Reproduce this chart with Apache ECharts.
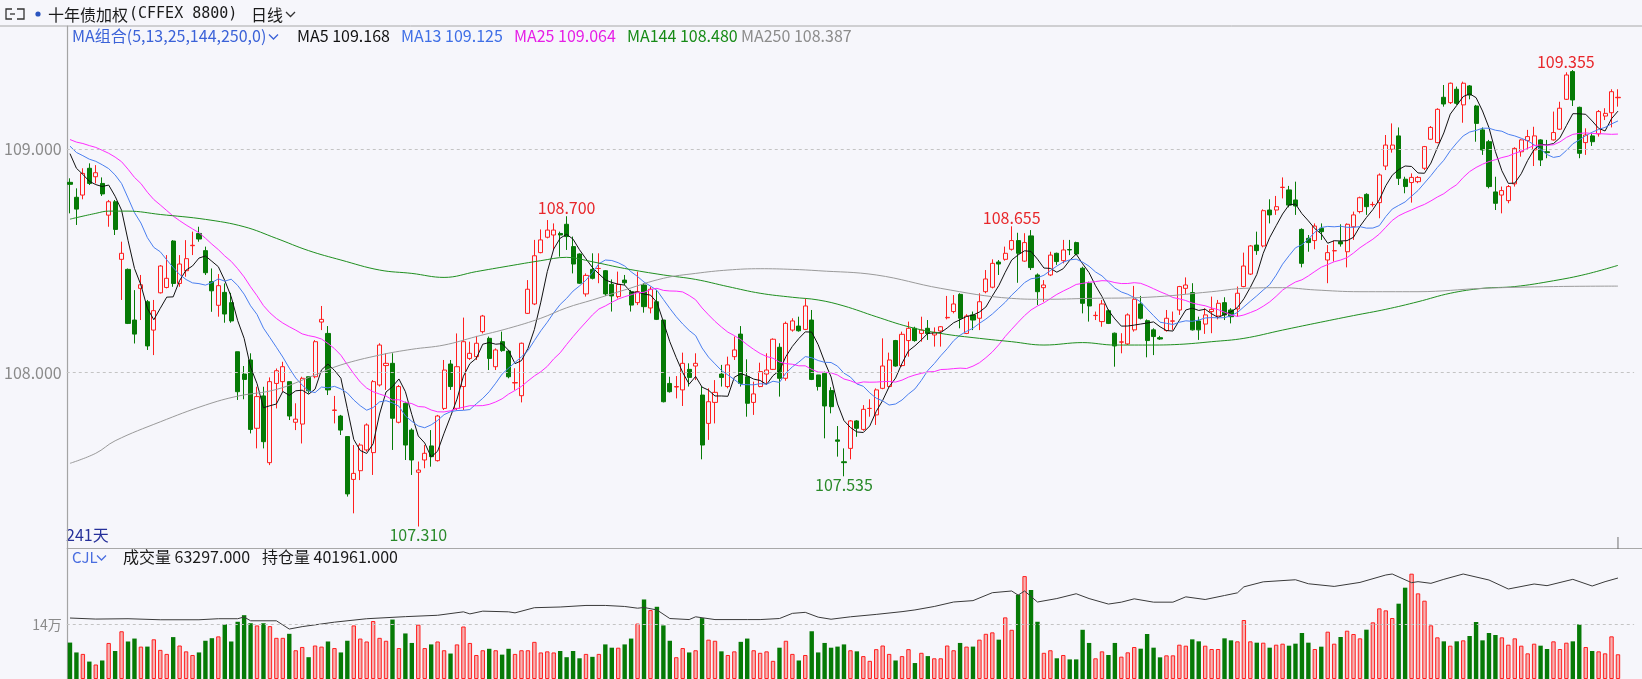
<!DOCTYPE html>
<html><head><meta charset="utf-8">
<script src="https://cdn.jsdelivr.net/npm/echarts@6/dist/echarts.min.js"></script>
<style>html,body{margin:0;padding:0;background:#f6f6fb;}#c{width:1642px;height:679px;}</style>
</head><body><div id="c"></div><script>
// ---------------- DATA ----------------
// daily candles: [open, close, low, high]
const candles = [
[108.852,108.843,108.713,108.870],[108.785,108.732,108.661,108.825],[108.795,108.892,108.776,108.915],[108.915,108.847,108.840,108.937],[108.877,108.895,108.847,108.929],
[108.847,108.800,108.791,108.874],[108.705,108.765,108.653,108.773],[108.765,108.641,108.616,108.773],[108.507,108.534,108.325,108.586],[108.462,108.220,108.217,108.466],
[108.235,108.172,108.130,108.369],[108.377,108.393,108.235,108.437],[108.317,108.119,108.101,108.325],[108.190,108.277,108.078,108.325],[108.357,108.477,108.354,108.481],
[108.381,108.422,108.377,108.526],[108.589,108.399,108.384,108.593],[108.399,108.486,108.384,108.526],[108.456,108.510,108.429,108.593],[108.568,108.570,108.526,108.631],
[108.623,108.598,108.586,108.653],[108.546,108.447,108.437,108.564],[108.407,108.366,108.272,108.466],[108.301,108.389,108.250,108.441],[108.359,108.262,108.223,108.399],
[108.313,108.231,108.223,108.357],[108.093,107.914,107.877,108.093],[107.993,107.969,107.880,108.029],[108.056,107.745,107.727,108.086],[107.750,107.892,107.660,107.936],
[107.895,107.690,107.660,107.936],[107.596,107.959,107.585,107.978],[107.951,108.008,107.839,108.018],[107.959,108.026,107.914,108.048],[107.959,107.805,107.787,107.959],
[107.777,107.791,107.742,107.862],[107.769,107.974,107.682,107.981],[107.981,107.918,107.906,107.981],[107.981,108.138,107.974,108.145],[108.226,108.238,108.190,108.298],
[108.175,107.922,107.899,108.208],[107.830,107.832,107.772,107.895],[107.805,107.742,107.720,107.810],[107.713,107.456,107.444,107.713],[107.521,107.548,107.369,107.675],
[107.560,107.675,107.518,107.683],[107.653,107.765,107.645,107.772],[107.641,107.959,107.541,107.966],[107.944,108.123,107.937,108.131],[108.031,108.041,107.922,108.086],
[108.041,107.795,107.653,108.086],[107.777,107.937,107.772,107.944],[107.862,107.675,107.608,107.869],[107.742,107.608,107.541,107.750],[107.553,107.563,107.310,107.601],
[107.608,107.638,107.571,107.675],[107.671,107.623,107.578,107.742],[107.605,107.805,107.601,107.810],[107.839,108.011,107.832,108.056],[108.038,107.937,107.922,108.056],
[107.839,108.026,107.832,108.175],[107.937,108.138,107.832,108.246],[108.063,108.086,108.056,108.138],[108.071,108.131,108.056,108.164],[108.183,108.253,108.175,108.258],
[108.153,108.063,108.011,108.161],[108.026,108.101,108.011,108.108],[108.138,108.098,108.093,108.183],[108.096,107.981,107.974,108.101],[107.953,107.955,107.922,108.019],
[107.896,108.131,107.866,108.134],[108.265,108.373,108.262,108.414],[108.307,108.523,108.302,108.594],[108.537,108.594,108.534,108.641],[108.606,108.638,108.601,108.683],
[108.616,108.638,108.549,108.668],[108.623,108.616,108.519,108.631],[108.664,108.609,108.549,108.700],[108.564,108.486,108.444,108.609],[108.531,108.400,108.397,108.534],
[108.352,108.435,108.340,108.444],[108.462,108.422,108.417,108.534],[108.466,108.466,108.400,108.534],[108.456,108.352,108.343,108.459],[108.395,108.343,108.273,108.417],
[108.340,108.395,108.332,108.452],[108.414,108.402,108.392,108.437],[108.362,108.302,108.273,108.370],[108.313,108.362,108.302,108.452],[108.392,108.295,108.268,108.400],
[108.289,108.373,108.265,108.385],[108.317,108.238,108.235,108.370],[108.235,107.869,107.866,108.235],[107.951,107.914,107.910,107.981],[107.935,107.937,107.884,107.984],
[107.922,108.041,107.850,108.089],[108.014,107.978,107.937,108.041],[108.029,108.041,107.966,108.086],[107.899,107.675,107.611,107.937],[107.772,107.869,107.698,107.929],
[107.866,107.911,107.772,107.966],[107.993,107.978,107.937,108.034],[107.937,108.034,107.929,108.071],[108.071,108.101,108.056,108.161],[108.172,107.951,107.937,108.208],
[107.981,107.862,107.802,108.059],[107.866,107.904,107.810,107.959],[107.937,108.004,107.934,108.044],[107.993,108.011,107.948,108.086],[108.014,108.149,108.011,108.153],
[108.113,107.974,107.892,108.131],[107.974,108.220,107.963,108.228],[108.190,108.231,108.183,108.243],[108.208,108.187,108.183,108.250],[108.193,108.298,108.190,108.332],
[108.235,107.969,107.966,108.280],[107.989,107.937,107.919,107.989],[107.996,107.850,107.705,108.004],[107.919,107.847,107.817,107.934],[107.698,107.692,107.623,107.760],
[107.600,107.596,107.535,107.660],[107.660,107.783,107.611,107.787],[107.783,107.750,107.712,107.787],[107.745,107.835,107.739,107.854],[107.839,107.839,107.802,107.880],
[107.810,107.922,107.765,107.929],[107.929,108.029,107.925,108.153],[107.937,108.056,107.934,108.089],[108.143,108.029,108.026,108.146],[108.031,108.171,108.026,108.183],
[108.143,108.198,108.071,108.228],[108.198,108.143,108.138,108.205],[108.175,108.190,108.138,108.250],[108.198,108.175,108.146,108.235],[108.168,108.180,108.116,108.202],
[108.186,108.205,108.116,108.208],[108.245,108.247,108.238,108.343],[108.273,108.307,108.265,108.347],[108.350,108.243,108.198,108.355],[108.175,108.253,108.172,108.261],
[108.258,108.235,108.190,108.273],[108.243,108.317,108.190,108.355],[108.362,108.419,108.355,108.459],[108.382,108.489,108.377,108.507],[108.495,108.486,108.437,108.504],
[108.507,108.534,108.501,108.564],[108.552,108.591,108.546,108.655],[108.591,108.534,108.402,108.626],[108.499,108.582,108.496,108.624],[108.612,108.470,108.459,108.638],
[108.437,108.362,108.302,108.444],[108.380,108.392,108.317,108.414],[108.437,108.526,108.432,108.541],[108.534,108.497,108.482,108.537],[108.501,108.549,108.489,108.594],
[108.551,108.549,108.526,108.594],[108.582,108.531,108.526,108.586],[108.467,108.310,108.265,108.474],[108.400,108.298,108.228,108.407],[108.255,108.256,108.235,108.273],
[108.228,108.307,108.205,108.325],[108.277,108.220,108.217,108.283],[108.176,108.119,108.026,108.179],[108.136,108.137,108.086,108.176],[108.128,108.258,108.123,108.265],
[108.191,108.328,108.183,108.388],[108.307,108.243,108.238,108.343],[108.232,108.143,108.068,108.238],[108.191,108.161,108.078,108.198],[108.156,108.150,108.146,108.164],
[108.188,108.243,108.183,108.280],[108.230,108.231,108.191,108.273],[108.280,108.385,108.258,108.388],[108.377,108.392,108.352,108.426],[108.358,108.191,108.188,108.400],
[108.231,108.191,108.146,108.250],[108.217,108.258,108.173,108.288],[108.273,108.283,108.176,108.340],[108.253,108.310,108.238,108.325],[108.313,108.258,108.235,108.337],
[108.280,108.250,108.220,108.288],[108.285,108.355,108.250,108.385],[108.385,108.477,108.382,108.537],[108.441,108.567,108.437,108.571],[108.571,108.546,108.527,108.631],
[108.567,108.725,108.561,108.731],[108.728,108.706,108.668,108.776],[108.728,108.743,108.706,108.791],[108.829,108.830,108.780,108.874],[108.818,108.750,108.740,108.836],
[108.773,108.746,108.706,108.855],[108.641,108.489,108.471,108.646],[108.601,108.582,108.541,108.616],[108.591,108.656,108.552,108.668],[108.646,108.631,108.594,108.668],
[108.504,108.537,108.400,108.571],[108.545,108.546,108.497,108.591],[108.586,108.576,108.564,108.664],[108.541,108.664,108.471,108.668],[108.653,108.706,108.594,108.721],
[108.721,108.783,108.713,108.788],[108.798,108.743,108.706,108.803],[108.752,108.753,108.743,108.765],[108.761,108.885,108.691,108.892],[108.925,109.019,108.907,109.064],
[109.000,109.019,108.985,109.116],[109.060,108.870,108.840,109.098],[108.866,108.833,108.803,108.877],[108.851,108.874,108.761,108.892],[108.855,108.874,108.848,108.880],
[108.915,109.012,108.907,109.015],[109.045,109.098,109.042,109.104],[109.030,109.179,109.027,109.184],[109.233,109.203,109.191,109.288],[109.209,109.296,109.203,109.299],
[109.269,109.206,109.199,109.281],[109.199,109.296,109.119,109.303],[109.284,109.243,109.224,109.288],[109.194,109.116,109.034,109.199],[109.087,108.997,108.975,109.098],
[109.034,108.833,108.825,109.042],[108.809,108.758,108.728,108.877],[108.795,108.815,108.713,108.833],[108.770,108.833,108.758,108.840],[108.845,109.004,108.833,109.009],
[108.989,109.042,108.967,109.045],[109.039,109.057,108.997,109.087],[108.997,109.060,108.925,109.101],[109.042,108.952,108.925,109.045],[108.989,108.985,108.960,109.042],
[109.042,109.075,109.039,109.169],[109.090,109.184,109.087,109.213],[109.224,109.333,109.221,109.345],[109.348,109.221,109.194,109.355],[109.188,108.982,108.960,109.191],
[109.030,109.064,108.975,109.094],[109.060,109.034,109.015,109.072],[109.069,109.169,109.057,109.176],[109.149,109.161,109.131,109.184],[109.164,109.258,109.098,109.269],
[109.231,109.233,109.191,109.269]
];
// closes of the 24 sessions before the first visible candle (warm-up for the moving averages)
const priorCloses = [109.02,109.05,109.08,109.10,109.12,109.10,109.07,109.05,109.06,109.09,109.08,109.09,
  109.10,109.08,109.05,109.02,109.00,108.99,109.01,109.03,109.06,109.03,109.00,108.97];
// traded volume per session
const volumes = [
93220,67975,64235,44600,37120,47405,92285,71715,122205,96025,
103505,82935,82935,101635,74520,64235,107245,85740,70780,61430,
67975,97895,104440,109115,139970,96025,146515,163345,142775,137165,
142775,135295,105375,105375,115660,73585,82000,55820,85740,82935,
96025,79195,67975,97895,137165,103505,96025,148385,105375,97895,
152125,79195,116595,92285,139035,79195,88545,96025,73585,65170,
88545,134360,92285,61430,73585,77325,73585,62365,77325,64235,
73585,73585,95090,67975,70780,67975,71715,55820,71715,53015,
64235,56755,64235,88545,80130,80130,88545,103505,141840,203550,
176435,184850,137165,97895,55820,79195,67975,73585,155865,100700,
97895,70780,61430,70780,95090,103505,73585,67040,70780,46470,
80130,97895,64235,47405,61430,122205,67975,92285,80130,82935,
88545,73585,70780,58625,46470,76390,85740,64235,47405,58625,
76390,40860,67040,58625,53015,53015,85740,73585,92285,82935,
82935,100700,115660,119400,100700,157735,125945,215705,263390,227860,
146515,67040,73585,53015,61430,50210,50210,125945,92285,53015,
70780,61430,92285,57151,68240,81888,77623,115155,80182,55445,
60563,60563,87859,85300,101507,96389,85300,76770,76770,104066,
98948,96389,150981,96389,92977,92977,80182,87859,90418,85300,
90418,117714,92977,76770,82741,121126,90418,107478,123685,115155,
104066,126244,145010,180836,175718,156099,192778,233722,269548,219221,
200455,137333,106625,96389,85300,96389,98948,110037,145863,98948,
117714,112596,106625,87859,104066,85300,65681,90418,85300,76770,
96389,76770,92977,96389,139892,81888,71652,70799,65681,109184,
63297
];
// open interest read at sample sessions: [session index, contracts]
const openInterest = [[0,321940],[4,319870],[9,320560],[14,318500],[20,318500],[23,320560],[26,320560],[27,324000],[28,316430],[32,316430],
[34,299900],[36,304720],[41,313680],[46,320560],[52,324690],[57,327450],[61,334330],[62,330200],[64,335710],[68,334330],[69,332270],[72,342600],
[76,343980],[80,347110],[83,347110],[86,345040],[88,341600],[89,342980],[91,338150],[93,320940],[96,318870],[97,324380],[100,318870],[105,318870],
[107,318870],[110,320940],[112,331270],[114,333330],[116,323690],[118,319560],[121,324380],[125,329200],[129,334710],[131,338150],[134,345040],
[137,354000],[140,356750],[143,372590],[146,376030],[147,367770],[148,376030],[150,354000],[153,360880],[156,370520],[158,360880],[161,349860],
[163,353670],[165,360340],[168,353670],[171,353670],[173,364340],[176,359000],[179,367000],[181,372340],[182,384340],[185,394340],[190,398500],
[192,390500],[196,385170],[200,393170],[204,408000],[205,410000],[208,392670],[209,394670],[211,391340],[213,399340],[216,410000],[220,398000],
[223,380000],[227,390000],[229,386670],[233,399340],[236,386000],[238,394670],[240,401961]];
// long moving averages read at sample sessions: [session index, value]
const ma144Points = [[0,108.687],[4,108.713],[6,108.723],[9,108.723],[14,108.708],[21,108.686],[27,108.653],[32,108.601],[37,108.546],[42,108.504],
[48,108.459],[53,108.444],[58,108.426],[63,108.452],[68,108.477],[73,108.501],[77,108.516],[81,108.496],[86,108.466],[92,108.437],[97,108.417],
[102,108.385],[107,108.355],[112,108.337],[116,108.325],[120,108.298],[125,108.250],[130,108.205],[135,108.175],[141,108.153],[146,108.138],
[151,108.123],[157,108.134],[162,108.123],[167,108.123],[172,108.126],[177,108.138],[182,108.153],[188,108.190],[193,108.220],[199,108.255],
[204,108.283],[209,108.317],[214,108.355],[219,108.377],[224,108.385],[230,108.411],[235,108.440],[240,108.480]];
const ma250Points = [[0,107.593],[4,107.638],[7,107.694],[14,107.779],[21,107.854],[26,107.894],[32,107.924],[38,107.989],[42,108.034],[48,108.078],
[53,108.104],[58,108.123],[63,108.161],[68,108.198],[73,108.243],[77,108.290],[81,108.325],[86,108.370],[92,108.422],[97,108.444],[102,108.459],
[107,108.465],[112,108.462],[116,108.456],[125,108.437],[135,108.377],[146,108.332],[151,108.328],[158,108.332],[167,108.337],[177,108.362],
[182,108.377],[188,108.380],[193,108.370],[200,108.362],[209,108.362],[219,108.377],[230,108.385],[240,108.387]];
const priceTicks = [108, 109];
const volTicks = [140000];
const volTickLabels = ['14万'];
const peakIdx = [77, 146, 233];
const troughIdx = [54, 120];
const maLegend = [['MA5','109.168'],['MA13','109.125'],['MA25','109.064'],['MA144','108.480'],['MA250','108.387']];
const titleCn = '十年债加权';
const titleCode = '(CFFEX 8800)';
const periodText = '日线';
const maGroupText = 'MA组合(5,13,25,144,250,0)';
const dayCountText = '241天';
const volLegend = ['成交量 63297.000', '持仓量 401961.000'];
const categories = candles.map((_, i) => 'D' + (i + 1));

// ---------------- BUILD ----------------
const BG = '#f6f6fb', RED = '#ff1f1f', GREEN = '#067a06';
const FONT = "'Noto Sans CJK SC','Noto Sans',sans-serif";
const closes = candles.map(c => c[1]);
function movingAvg(p) {
  const all = priorCloses.concat(closes), off = priorCloses.length;
  return closes.map((_, i) => { let s = 0; for (let k = 0; k < p; k++) s += all[i + off - k]; return +(s / p).toFixed(4); });
}
const STEP = 6.45, PAD = 2, LEFT = 66.75;
const xCats = categories.concat(Array(PAD).fill(''));
const W = xCats.length * STEP;
const isUp = candles.map(c => c[1] >= c[0]);
const volData = volumes.map((v, i) => ({
  value: v,
  itemStyle: isUp[i] ? {color: '#f6b1b1', borderColor: RED, borderWidth: 1} : {color: GREEN, borderColor: GREEN, borderWidth: 0}
}));
const lineS = (name, data, color, smooth) => ({
  name, type: 'line', data, xAxisIndex: 0, yAxisIndex: 0, showSymbol: false, smooth: smooth || false,
  lineStyle: {color, width: 1}, itemStyle: {color}, silent: true, z: 3
});
const mp = [];
peakIdx.forEach(i => mp.push({coord: [i, candles[i][3]], value: candles[i][3].toFixed(3),
  label: {position: 'top', color: '#e8262a', offset: [i === candles.length - 8 ? -7 : 0, 0]}}));
troughIdx.forEach(i => mp.push({coord: [i, candles[i][2]], value: candles[i][2].toFixed(3),
  label: {position: 'bottom', color: '#2a8a2a'}}));

const axX = gi => ({type: 'category', gridIndex: gi, data: xCats, boundaryGap: true,
  axisLine: {show: false}, axisTick: {show: false}, axisLabel: {show: false}, splitLine: {show: false}});
const txt = (x, y, text, fill, size, fam) => ({type: 'text', style: {x, y, text, fill, font: size + 'px ' + (fam || FONT), verticalAlign: 'middle'}});
const legendX = [297, 401, 514, 627, 741];
const legendColors = ['#111111', '#3f6fe6', '#e61ee6', '#168a16', '#8c8c8c'];
const legendItems = maLegend.map((m, k) => txt(legendX[k], 36, m[0] + ' ' + m[1], legendColors[k], 16));
const chev = (x, y, c) => ({type: 'polyline', shape: {points: [[x, y - 2.5], [x + 4.5, y + 2], [x + 9, y - 2.5]]}, style: {stroke: c, lineWidth: 1.3, fill: null}});

const option = {
  backgroundColor: BG,
  animation: false,
  grid: [
    {left: LEFT, top: 26, width: W, height: 523},
    {left: LEFT, top: 549, width: W, height: 130}
  ],
  xAxis: [axX(0), axX(1)],
  yAxis: [
    {type: 'value', gridIndex: 0, min: 107.2092, max: 109.5524, axisLine: {show: true, lineStyle: {color: '#a4a4a4', width: 1.2}},
      axisLabel: {show: false}, axisTick: {show: false}, splitLine: {show: false}},
    {type: 'value', gridIndex: 1, min: 0, max: 332724, axisLine: {show: true, lineStyle: {color: '#a4a4a4', width: 1.2}},
      axisLabel: {show: false}, axisTick: {show: false}, splitLine: {show: false}},
    {type: 'value', gridIndex: 1, min: 200000, max: 460000, show: false, splitLine: {show: false}}
  ],
  series: [
    {type: 'candlestick', data: candles, xAxisIndex: 0, yAxisIndex: 0, barWidth: 4.6, z: 2,
      itemStyle: {color: BG, color0: GREEN, borderColor: RED, borderColor0: GREEN, borderWidth: 1},
      markLine: {silent: true, symbol: 'none', animation: false,
        lineStyle: {type: [3, 3], color: '#c4c4c4', width: 1},
        label: {position: 'start', distance: 5, color: '#8a8a8a', fontSize: 16, fontFamily: FONT, formatter: p => p.value.toFixed(3)},
        data: priceTicks.map(v => ({yAxis: v}))},
      markPoint: {symbol: 'circle', symbolSize: 1, silent: true, itemStyle: {color: 'rgba(0,0,0,0)'},
        label: {show: true, fontSize: 16, fontFamily: FONT, distance: 0, formatter: p => p.value},
        data: mp}
    },
    lineS('MA5', movingAvg(5), '#111111'),
    lineS('MA13', movingAvg(13), '#4a7ff0'),
    lineS('MA25', movingAvg(25), '#ff2cff'),
    lineS('MA144', ma144Points, '#1f8f1f', 0.4),
    lineS('MA250', ma250Points, '#9a9a9a', 0.4),
    {type: 'bar', data: volData, xAxisIndex: 1, yAxisIndex: 1, barWidth: 4.4, silent: true,
      markLine: {silent: true, symbol: 'none', animation: false,
        lineStyle: {type: [3, 3], color: '#c4c4c4', width: 1},
        label: {position: 'start', distance: 5, color: '#8a8a8a', fontSize: 14, fontFamily: FONT,
          formatter: p => volTickLabels[volTicks.indexOf(p.value)]},
        data: volTicks.map(v => ({yAxis: v}))}},
    {type: 'line', data: openInterest, xAxisIndex: 1, yAxisIndex: 2, showSymbol: false, silent: true,
      lineStyle: {color: '#3a3a3a', width: 1}, z: 4}
  ],
  graphic: [
    {type: 'line', shape: {x1: 0, y1: 26, x2: 1642, y2: 26}, style: {stroke: '#a8a8a8', lineWidth: 1}},
    {type: 'line', shape: {x1: LEFT, y1: 548.5, x2: 1642, y2: 548.5}, style: {stroke: '#a8a8a8', lineWidth: 1.2}},
    {type: 'polyline', shape: {points: [[12, 9], [6, 9], [6, 19], [12, 19]]}, style: {stroke: '#333', lineWidth: 1.3, fill: null}},
    {type: 'line', shape: {x1: 10, y1: 14, x2: 15, y2: 14}, style: {stroke: '#333', lineWidth: 1.3}},
    {type: 'polyline', shape: {points: [[17, 9], [24, 9], [24, 19], [17, 19]]}, style: {stroke: '#333', lineWidth: 1.3, fill: null}},
    {type: 'circle', shape: {cx: 38, cy: 14, r: 2.6}, style: {fill: '#2a55c0'}},
    txt(48, 14.5, titleCn, '#1a1a1a', 16),
    txt(129, 14.5, titleCode, '#1a1a1a', 15, "'DejaVu Sans Mono',monospace"),
    txt(251, 14.5, periodText, '#1a1a1a', 16),
    chev(286, 14.5, '#333'),
    txt(72, 36, maGroupText, '#3b62d8', 16),
    chev(269, 37, '#3b62d8'),
    ...legendItems,
    txt(66, 534.5, dayCountText, '#26309a', 16),
    txt(72, 557, 'CJL', '#4a6ee0', 15),
    chev(97, 558, '#4a6ee0'),
    txt(123, 557, volLegend[0], '#1a1a1a', 16),
    txt(262, 557, volLegend[1], '#1a1a1a', 16)
  ]
};
const chart = echarts.init(document.getElementById('c'));
chart.setOption(option);
const lastX = chart.convertToPixel({xAxisIndex: 0}, categories[categories.length - 1]);
chart.setOption({graphic: option.graphic.concat([
  {type: 'line', shape: {x1: lastX, y1: 537, x2: lastX, y2: 549}, style: {stroke: '#707070', lineWidth: 1}}
])});
</script></body></html>
